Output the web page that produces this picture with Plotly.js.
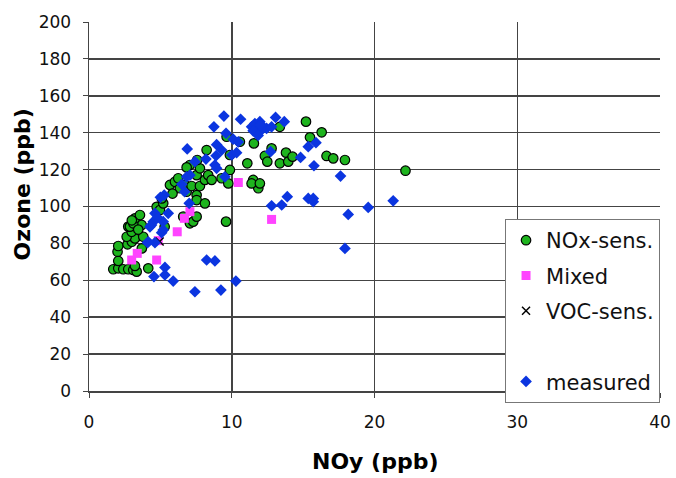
<!DOCTYPE html>
<html><head><meta charset="utf-8">
<script src="https://cdn.plot.ly/plotly-3.0.1.min.js"></script>
<style>html,body{margin:0;padding:0;background:#fff}#chart{width:676px;height:478px}</style>
</head><body><div id="chart"></div>
<script>
// NOx-sensitive (green circles)
const noxX = [1.7,2.05,2.4,2.75,3.1,3.34,3.22,4.15,2.05,2.0,2.05,2.7,3.0,3.22,3.8,3.7,2.64,2.99,2.75,2.87,3.34,3.69,3.1,3.22,3.57,3.45,3.0,
  4.74,4.97,5.2,5.1,5.3,5.67,6.02,6.25,6.37,6.72,6.84,7.19,7.54,7.54,7.77,8.12,8.12,8.35,8.59,7.54,7.07,7.77,8.24,6.6,7.07,7.3,7.54,6.84,7.58,5.85,
  9.29,9.76,9.87,9.87,9.64,10.57,11.09,11.55,11.5,11.86,11.39,11.97,9.6,12.32,12.49,12.79,
  13.37,15.2,16.3,15.48,13.37,13.8,13.96,14.26,16.64,17.11,17.93,22.17];
const noxY = [66,66.5,66,66,65.6,64.7,67.8,66.5,70.5,75.5,78.6,79.5,80.9,82.7,83.6,77.3,83.6,86.3,89.1,89.1,90,90,90.9,93.6,95.4,87.5,92.5,
  99.8,98.1,101.7,104.4,89,111.7,113.4,115.3,109.9,111.7,108,111.1,106.2,103.5,111.1,114.4,101.7,117,114.4,117,122.5,120.7,130.6,94.5,90.9,91.8,94.5,121.2,125.2,107,
  115.3,112.5,119.8,127.9,137.8,135.1,123.4,134.2,114.4,109.9,112.5,112.5,91.8,127.4,124.3,131.5,
  143.2,146,140.2,137.5,123.4,129.2,124.3,127,127.4,126.1,125.2,119.4];
// Mixed (magenta squares)
const mixX = [2.99,3.38,4.74,6.18,6.68,7.07,10.46,12.79,4.85];
const mixY = [71,74.6,71,86.3,93.6,97.2,113,93,81.5];
// VOC-sensitive (x)
const vocX = [4.95];
const vocY = [81];
// measured (blue diamonds)
const measX = [9.45,10.62,8.75,6.88,9.6,10.1,10.46,8.94,9.29,10.0,10.34,13.07,13.68,
  11.39,11.62,11.97,12.2,11.74,12.44,12.79,12.09,11.5,12.0,11.85,
  12.72,15.36,15.9,14.82,15.76,17.62,
  7.42,8.19,8.9,8.82,8.94,6.84,7.07,9.52,7.02,
  13.89,13.5,12.79,15.36,15.71,15.71,18.16,21.31,19.56,17.93,
  8.24,8.82,5.32,5.32,4.55,5.9,7.42,9.24,10.29,
  4.1,4.62,5.09,5.2,4.5,4.38,4.62,5.55,5.27,4.27,5.2,4.8,5.0,6.5,6.7,4.15];
const measY = [149,147.3,143.2,131.2,139.7,136.5,135,133.5,130.6,127.9,129.2,148.3,146,
  143.2,145,146,143.2,140.5,142.3,143.2,141.5,141,144,138.5,
  129.7,132.4,134.6,126.6,122.1,116.5,
  124.3,125.7,127.5,122.5,120.7,116.1,117,116.1,101.7,
  105.3,100.8,100.4,104.4,104.4,102.6,95.7,103.1,99.5,77.3,
  71,70.5,67,62.9,62,59.6,53.8,54.7,59.6,
  80.4,80.4,85.8,91.8,91.8,90,96.3,96.3,106.2,89,87.3,94,105,112,108,80.9];

const xTicks = [0,10,20,30,40];
const yTicks = [0,20,40,60,80,100,120,140,160,180,200];

const FONT = 'DejaVu Sans, Verdana, sans-serif';
const traces = [
  {x:noxX, y:noxY, name:'NOx-sens.', legendgroup:'a', type:'scatter', mode:'markers',
   marker:{symbol:'circle', size:9.5, color:'#1eb41e', line:{color:'#000', width:1.2}}},
  {x:mixX, y:mixY, name:'Mixed', legendgroup:'b', type:'scatter', mode:'markers',
   marker:{symbol:'square', size:9, color:'#ff44ff', line:{width:0}}},
  {x:vocX, y:vocY, name:'VOC-sens.', legendgroup:'c', type:'scatter', mode:'markers',
   marker:{symbol:'x-thin', size:8, color:'#000', line:{color:'#000', width:1.5}}},
  {x:[null], y:[null], name:' ', legendgroup:'d', type:'scatter', mode:'markers',
   marker:{size:1, color:'rgba(0,0,0,0)'}},
  {x:measX, y:measY, name:'measured', legendgroup:'e', type:'scatter', mode:'markers',
   marker:{symbol:'diamond', size:9, color:'#0b35e0', line:{width:0}}}
];

const layout = {
  width:676, height:478,
  margin:{l:89, r:16, t:22, b:87},
  paper_bgcolor:'#fff', plot_bgcolor:'#fff',
  font:{family:FONT, color:'#111'},
  showlegend:true,
  legend:{x:0.7286, y:0.466, xanchor:'left', yanchor:'top', bgcolor:'#fff',
    bordercolor:'#777', borderwidth:1, font:{family:FONT, size:21, color:'#111'},
    tracegroupgap:5, traceorder:'grouped', itemsizing:'trace'},
  xaxis:{range:[0,40], tickvals:xTicks, ticktext:xTicks.map(String), showgrid:true, gridcolor:'#444', gridwidth:1.5,
    zeroline:false, showline:true, linecolor:'#444', linewidth:1.5, ticks:'outside', ticklen:5, tickcolor:'#444',
    tickfont:{size:17, family:FONT, color:'#111'}, ticklabelstandoff:10, fixedrange:true},
  yaxis:{range:[0,200], tickvals:yTicks, ticktext:yTicks.map(String), showgrid:true, gridcolor:'#444', gridwidth:1.5,
    zeroline:false, showline:true, linecolor:'#444', linewidth:1.5, ticks:'outside', ticklen:5, tickcolor:'#444',
    tickfont:{size:17, family:FONT, color:'#111'}, ticklabelstandoff:8, fixedrange:true},
  annotations:[
    {text:'NOy (ppb)', xref:'paper', yref:'paper', x:0.5, y:-0.192, xanchor:'center', yanchor:'middle',
     showarrow:false, font:{family:FONT, size:22, color:'#000', weight:'bold'}},
    {text:'Ozone (ppb)', xref:'paper', yref:'paper', x:-0.1173, y:0.56, xanchor:'center', yanchor:'middle',
     textangle:-90, showarrow:false, font:{family:FONT, size:22, color:'#000', weight:'bold'}}
  ]
};
Plotly.newPlot('chart', traces, layout, {displayModeBar:false, staticPlot:true});
</script></body></html>
